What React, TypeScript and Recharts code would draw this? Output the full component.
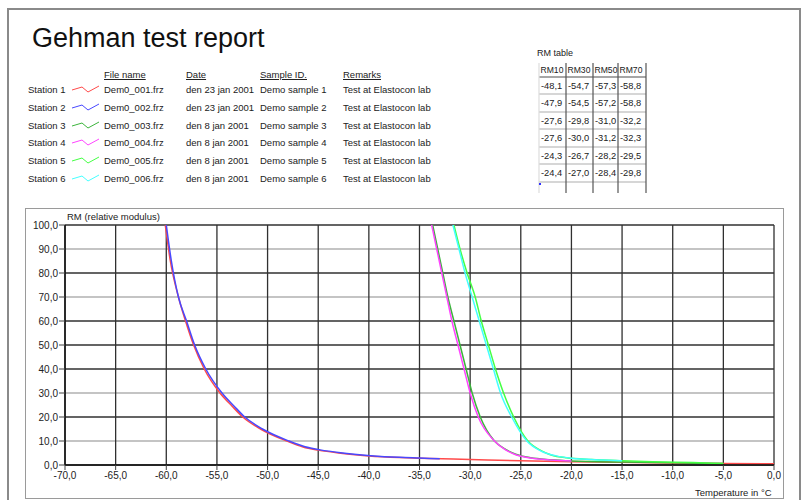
import { LineChart, Line, XAxis, YAxis, CartesianGrid } from "recharts";

// temperature (°C) / relative modulus per station
const t1 = [-60.1, -59.6, -58.8, -58.1, -57.3, -56.25, -54.7, -53.5, -52.45, -50.7, -48.1, -46.5, -45.0, -43.0, -40.0, -37.0, -35.0, -30.0, -25.0, -20.0, -15.0, -10.0, -5.0, 0.0];
const rm1 = [100, 85, 70, 60, 50, 40, 30, 24.5, 20, 15, 10, 7.5, 6.2, 5, 3.8, 3.1, 2.8, 2.3, 1.8, 1.4, 1.1, 0.8, 0.6, 0.5];

const t2 = [-60.0, -59.5, -58.8, -58.0, -57.2, -56.1, -54.5, -53.3, -52.25, -50.5, -47.9, -46.3, -44.8, -42.8, -39.8, -37.0, -35.0, -33.0];
const rm2 = [100, 85, 70, 60, 50, 40, 30, 24.5, 20, 15, 10, 7.6, 6.3, 5.1, 3.9, 3.2, 2.9, 2.6];

const t3 = [-33.7, -33.2, -32.7, -32.2, -31.6, -31.0, -30.4, -29.8, -29.0, -27.6, -26.5, -25.5, -24.0, -22.0, -20.0, -15.0, -10.0, -5.0];
const rm3 = [100, 90, 80, 70, 60, 50, 40, 30, 20, 10, 6.5, 4.5, 3, 2.2, 1.7, 1.2, 0.9, 0.6];

const t4 = [-33.8, -33.3, -32.8, -32.3, -31.8, -31.2, -30.6, -30.0, -29.2, -27.6, -26.5, -25.5, -24.0, -22.0, -20.0];
const rm4 = [100, 90, 80, 70, 60, 50, 40, 30, 20, 10, 6.3, 4.3, 2.9, 2.1, 1.7];

const t5 = [-31.6, -31.0, -30.3, -29.5, -28.9, -28.2, -27.5, -26.7, -25.7, -24.3, -23.0, -22.0, -20.5, -18.0, -15.0, -12.0, -8.0, -5.0];
const rm5 = [100, 90, 80, 70, 60, 50, 40, 30, 20, 10, 6, 4.2, 3, 2.3, 1.8, 1.4, 1.0, 0.6];

const t6 = [-31.7, -31.1, -30.5, -29.8, -29.1, -28.4, -27.7, -27.0, -25.9, -24.4, -23.0, -21.5, -20.0, -17.0, -15.0];
const rm6 = [100, 90, 80, 70, 60, 50, 40, 30, 20, 10, 5.8, 3.8, 2.8, 2.1, 1.8];

const xTicks = [-70, -65, -60, -55, -50, -45, -40, -35, -30, -25, -20, -15, -10, -5, 0];
const yTicks = [0, 10, 20, 30, 40, 50, 60, 70, 80, 90, 100];
const yGridDark = [0, 20, 40, 50, 60, 80, 100];
const yGridLight = [10, 30, 70, 90];

const stations = ["Station 1", "Station 2", "Station 3", "Station 4", "Station 5", "Station 6"];
const colors = ["#ff4a4a", "#4848ff", "#3cb43c", "#ff44ff", "#44ff44", "#44ffff"];
const files = ["Dem0_001.frz", "Dem0_002.frz", "Dem0_003.frz", "Dem0_004.frz", "Dem0_005.frz", "Dem0_006.frz"];
const dates = ["den 23 jan 2001", "den 23 jan 2001", "den 8 jan 2001", "den 8 jan 2001", "den 8 jan 2001", "den 8 jan 2001"];
const samples = ["Demo sample 1", "Demo sample 2", "Demo sample 3", "Demo sample 4", "Demo sample 5", "Demo sample 6"];
const remarks = ["Test at Elastocon lab", "Test at Elastocon lab", "Test at Elastocon lab", "Test at Elastocon lab", "Test at Elastocon lab", "Test at Elastocon lab"];

const rmHeaders = ["RM10", "RM30", "RM50", "RM70"];
const rmRows = [
  ["-48,1", "-54,7", "-57,3", "-58,8"],
  ["-47,9", "-54,5", "-57,2", "-58,8"],
  ["-27,6", "-29,8", "-31,0", "-32,2"],
  ["-27,6", "-30,0", "-31,2", "-32,3"],
  ["-24,3", "-26,7", "-28,2", "-29,5"],
  ["-24,4", "-27,0", "-28,4", "-29,8"],
];

const series = [
  [t1, rm1], [t2, rm2], [t3, rm3], [t4, rm4], [t5, rm5], [t6, rm6],
].map(([t, rm]) => t.map((x, i) => ({ t: x, rm: rm[i] })));

const fmt = (v: number) => v.toFixed(1).replace(".", ",");
const small = { fontFamily: "'Liberation Sans', Arial, sans-serif", fontSize: 9.5, color: "#222" };

function Txt({ x, y, children, u }: { x: number; y: number; children: any; u?: boolean }) {
  return (
    <div style={{ ...small, position: "absolute", left: x, top: y - 6, whiteSpace: "nowrap", textDecoration: u ? "underline" : "none" }}>
      {children}
    </div>
  );
}

function RmTable() {
  const cols = [539, 566, 593, 618, 646];
  const rowLines = [77, 94, 112, 129, 147, 164, 182];
  return (
    <svg style={{ position: "absolute", left: 0, top: 0 }} width={803} height={200}>
      <text x={537} y={56} fontSize={9} fontFamily="'Liberation Sans', Arial" fill="#222">RM table</text>
      {rowLines.map((y, i) => (
        <line key={y} x1={539} x2={646} y1={y} y2={y} stroke={i === 0 ? "#888" : "#c8c8c8"} strokeWidth={1.5} />
      ))}
      {cols.map((x, i) => (
        <line key={x} x1={x} x2={x} y1={63} y2={193} stroke={i === 0 ? "#ddd" : "#555"} strokeWidth={1.2} />
      ))}
      {rmHeaders.map((h, i) => (
        <text key={h} x={cols[i] + 1.5} y={73} fontSize={8.6} fontFamily="'Liberation Sans', Arial" fill="#222">{h}</text>
      ))}
      {rmRows.map((r, j) =>
        r.map((v, i) => (
          <text key={j + "-" + i} x={cols[i] + 2} y={89 + j * 17.4} fontSize={9.3} fontFamily="'Liberation Sans', Arial" fill="#222">{v}</text>
        ))
      )}
      <rect x={539} y={183} width={2} height={2} fill="#3030ff" />
    </svg>
  );
}

export default function App() {
  const rowY = (i: number) => 90 + i * 17.8;
  return (
    <div style={{ position: "relative", width: 803, height: 500, background: "#fff", overflow: "hidden" }}>
      <style>{`body{margin:0}`}</style>
      <div style={{ position: "absolute", left: 7, top: 8, width: 790, height: 520, border: "2px solid #8a8a8a", borderBottom: "none" }} />
      <div style={{ position: "absolute", left: 32, top: 23, fontFamily: "'Liberation Sans', Arial, sans-serif", fontSize: 27, color: "#111" }}>
        Gehman test report
      </div>

      <Txt x={104} y={75} u>File name</Txt>
      <Txt x={186} y={75} u>Date</Txt>
      <Txt x={260} y={75} u>Sample ID.</Txt>
      <Txt x={343} y={75} u>Remarks</Txt>
      {stations.map((s, i) => (
        <div key={s}>
          <Txt x={28} y={rowY(i)}>{s}</Txt>
          <svg style={{ position: "absolute", left: 72, top: rowY(i) - 5 }} width={30} height={9}>
            <polyline points="0,5 10,2 16,7 27,1" fill="none" stroke={colors[i]} strokeWidth={1} />
          </svg>
          <Txt x={104} y={rowY(i)}>{files[i]}</Txt>
          <Txt x={186} y={rowY(i)}>{dates[i]}</Txt>
          <Txt x={260} y={rowY(i)}>{samples[i]}</Txt>
          <Txt x={343} y={rowY(i)}>{remarks[i]}</Txt>
        </div>
      ))}

      <RmTable />

      <div style={{ position: "absolute", left: 25, top: 208, width: 757, height: 289, border: "1.5px solid #9a9a9a" }} />
      <div style={{ position: "absolute", left: 25, top: 208 }}>
        <LineChart width={758} height={290} margin={{ top: 17, right: 9, left: 0, bottom: 0 }}>
          <CartesianGrid horizontalValues={yGridLight} vertical={false} stroke="#c4c4c4" strokeWidth={2} />
          <CartesianGrid horizontalValues={yGridDark} verticalValues={xTicks} stroke="#303030" strokeWidth={1.3} />
          <XAxis
            dataKey="t"
            type="number"
            domain={[-70, 0]}
            ticks={xTicks}
            tickFormatter={fmt}
            allowDataOverflow
            height={33}
            tickSize={5}
            tickMargin={2}
            axisLine={{ stroke: "#111", strokeWidth: 1.5 }}
            tickLine={{ stroke: "#444" }}
            tick={{ fontSize: 10, fill: "#222", fontFamily: "'Liberation Sans', Arial" }}
          />
          <YAxis
            type="number"
            domain={[0, 100]}
            ticks={yTicks}
            tickFormatter={fmt}
            allowDataOverflow
            width={40}
            tickSize={6}
            tickMargin={1}
            axisLine={{ stroke: "#111", strokeWidth: 1.5 }}
            tickLine={{ stroke: "#444" }}
            tick={{ fontSize: 10, fill: "#222", fontFamily: "'Liberation Sans', Arial" }}
          />
          {series.map((d, i) => (
            <Line
              key={stations[i]}
              data={d}
              dataKey="rm"
              type="monotone"
              stroke={colors[i]}
              strokeWidth={1.5}
              dot={false}
              isAnimationActive={false}
            />
          ))}
        </LineChart>
      </div>
      <div style={{ ...small, position: "absolute", left: 67, top: 211 }}>RM (relative modulus)</div>
      <div style={{ ...small, position: "absolute", left: 695, top: 487 }}>Temperature in °C</div>
    </div>
  );
}
